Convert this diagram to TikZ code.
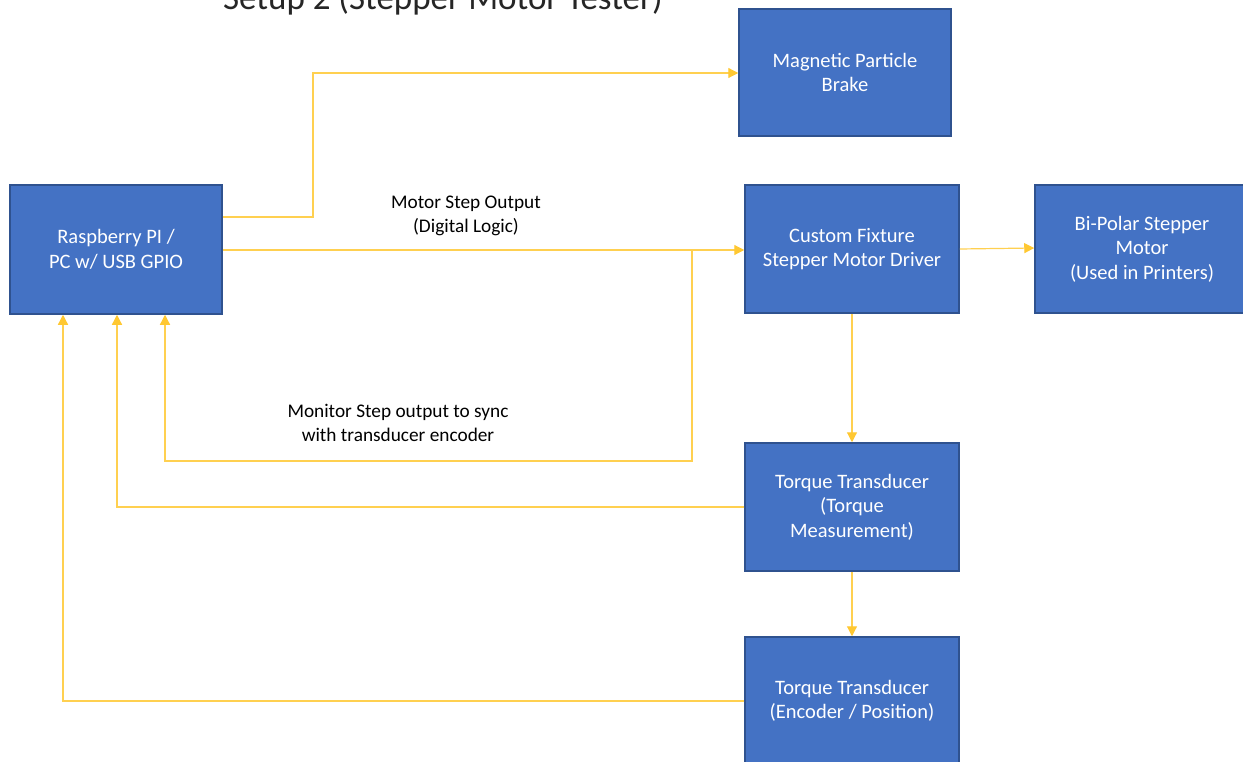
\documentclass[tikz,border=0pt]{standalone}
\usepackage{fontspec}
\setmainfont{Carlito}
\usetikzlibrary{arrows.meta}
\definecolor{boxfill}{RGB}{68,114,196}
\definecolor{boxline}{RGB}{47,82,143}
\definecolor{wire}{RGB}{255,208,80}
\definecolor{tip}{RGB}{255,200,50}
\tikzset{
  blk/.style={draw=boxline, line width=1.5pt, fill=boxfill, text=white, align=center,
    inner sep=0pt, font=\fontsize{20.5}{24.5}\selectfont},
  lbl/.style={align=center, font=\fontsize{19.3}{23.5}\selectfont, text=black},
  wireline/.style={draw=wire, line width=1.2pt},
  arr/.style={wireline, -{Triangle[length=10pt,width=10pt,color=tip]}},
}
\begin{document}
\begin{tikzpicture}[x=1pt,y=-1pt]
\useasboundingbox (0,0) rectangle (1243,762);
\clip (0,0) rectangle (1243,762);
\fill[white] (0,0) rectangle (1243,762);
\node[anchor=base, font=\fontsize{35}{40}\selectfont, text=black!85] (title) at (443,10) {Setup 2 (Stepper Motor Tester)};
\node[blk, minimum width=212pt, minimum height=129pt] (rpi) at (116,249.5) {Raspberry PI /\\PC w/ USB GPIO};
\node[blk, minimum width=212pt, minimum height=127pt] (brake) at (845,72.5) {Magnetic Particle\\Brake};
\node[blk, minimum width=214pt, minimum height=128pt] (drv) at (852,249) {Custom Fixture\\Stepper Motor Driver};
\node[blk, minimum width=214pt, minimum height=128pt] (motor) at (1142,249) {Bi-Polar Stepper\\Motor\\(Used in Printers)};
\node[blk, minimum width=214pt, minimum height=128pt] (tq) at (852,507) {Torque Transducer\\(Torque\\Measurement)};
\node[blk, minimum width=214pt, minimum height=128pt] (enc) at (852,701) {Torque Transducer\\(Encoder / Position)};
\node[lbl] (l1) at (466,216) {Motor Step Output\\(Digital Logic)};
\node[lbl] (l2) at (398,423) {Monitor Step output to sync\\with transducer encoder};
\coordinate (tap) at (692,251.5);
% connectors
\draw[arr] (rpi.east |- 0,217) -| (313,73) -- (brake.west |- 0,73);
\draw[arr] (rpi.east |- 0,250) -- (drv.west |- 0,250);
\draw[arr] (tap) -- (692,461) -| (rpi.south -| 165,0);
\draw[arr] (drv.south) -- (tq.north);
\draw[arr] (tq.west) -| (rpi.south -| 117,0);
\draw[arr] (tq.south) -- (enc.north);
\draw[arr] (enc.west) -| (rpi.south -| 63,0);
\draw[arr] (drv.east) -- (motor.west |- 0,248);
\end{tikzpicture}
\end{document}
